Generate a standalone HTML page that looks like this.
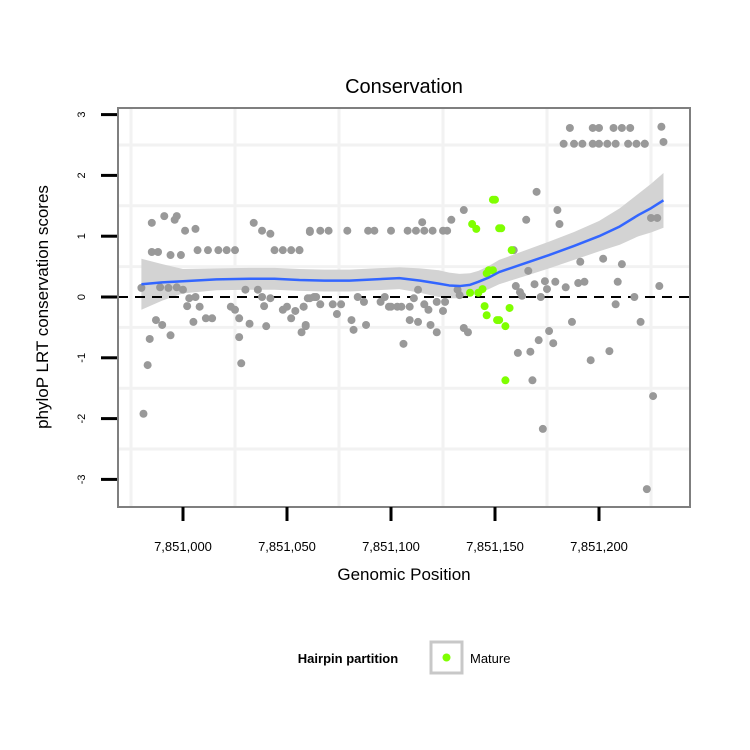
<!DOCTYPE html>
<html><head><meta charset="utf-8"><style>
body{margin:0;background:#fff;}
svg{display:block;font-family:"Liberation Sans",sans-serif;}
</style></head><body>
<svg id="chart" width="750" height="750">
<text x="404" y="93" font-size="20" text-anchor="middle">Conservation</text>
<g id="grid"></g>
<g id="ribbon"></g>
<line x1="118" x2="690" y1="297" y2="297" stroke="#000" stroke-width="2" stroke-dasharray="10,7"/>
<g id="points"></g>
<g id="fit"></g>
<rect x="118" y="108" width="572" height="399" fill="none" stroke="#7f7f7f" stroke-width="2"/>
<g id="axes"></g>
<text x="404" y="580" font-size="17" text-anchor="middle">Genomic Position</text>
<text transform="translate(48,307) rotate(-90)" font-size="17" text-anchor="middle">phyloP LRT conservation scores</text>
<g>
<text x="348" y="663" font-size="13" font-weight="bold" text-anchor="middle">Hairpin partition</text>
<rect x="431" y="642" width="31" height="31" fill="#fff" stroke="#c8c8c8" stroke-width="3"/>
<circle cx="446.5" cy="657.5" r="4" fill="#7fff00"/>
<text x="470" y="663" font-size="13">Mature</text>
</g>
</svg>
<script>
const xTicks = [0, 50, 100, 150, 200];
const xTickLabels = ["7,851,000","7,851,050","7,851,100","7,851,150","7,851,200"];
const yTicks = [-3,-2,-1,0,1,2,3];
const grayX = [-15,-9,-4,-3,1,6,-15,-12,-6,-1,7,12,17,21,25,34,38,42,44,48,52,56,61,
 -20,-11,-7,-3,0,3,6,2,8,-13,-10,5,11,14,-6,-16,-17,-19,23,25,27,30,36,38,42,32,39,40,27,28,48,50,54,52,58,59,57,61,64,
 61,66,70,79,89,92,100,108,112,116,120,125,127,115,129,135,56,
 60,63,58,66,72,76,74,59,81,82,88,84,87,95,97,99,103,106,109,100,113,111,109,113,119,122,116,118,122,126,125,105,132,133,135,137,
 159,170,165,180,181,166,160,169,174,179,175,184,162,163,172,191,202,211,190,193,209,217,208,229,187,220,176,171,178,161,167,196,205,168,226,173,223,
 186,197,200,207,211,215,230,183,188,192,197,200,204,208,214,218,222,222,231,225,228];
const grayY = [1.22,1.33,1.27,1.33,1.09,1.12,0.74,0.74,0.69,0.69,0.77,0.77,0.77,0.77,0.77,1.22,1.09,1.04,0.77,0.77,0.77,0.77,1.07,
 0.15,0.16,0.15,0.16,0.12,-0.02,0,-0.15,-0.16,-0.38,-0.46,-0.41,-0.35,-0.35,-0.63,-0.69,-1.12,-1.92,-0.16,-0.21,-0.35,0.12,0.12,0,-0.02,-0.44,-0.15,-0.48,-0.66,-1.09,-0.21,-0.16,-0.23,-0.35,-0.16,-0.46,-0.58,-0.02,0,
 1.09,1.09,1.09,1.09,1.09,1.09,1.09,1.09,1.09,1.09,1.09,1.09,1.09,1.23,1.27,1.43,0.77,
 -0.02,0,-0.16,-0.12,-0.12,-0.12,-0.28,-0.48,-0.38,-0.54,-0.46,0,-0.08,-0.08,0,-0.16,-0.16,-0.77,-0.16,-0.16,0.12,-0.02,-0.38,-0.41,-0.46,-0.58,-0.12,-0.21,-0.08,-0.08,-0.23,-0.16,0.12,0.03,-0.51,-0.58,
 0.77,1.73,1.27,1.43,1.20,0.43,0.18,0.21,0.26,0.25,0.13,0.16,0.08,0.02,0,0.58,0.63,0.54,0.23,0.25,0.25,0,-0.12,0.18,-0.41,-0.41,-0.56,-0.71,-0.76,-0.92,-0.90,-1.04,-0.89,-1.37,-1.63,-2.17,-3.16,
 2.78,2.78,2.78,2.78,2.78,2.78,2.80,2.52,2.52,2.52,2.52,2.52,2.52,2.52,2.52,2.52,2.52,2.52,2.55,1.30,1.30];
const greenX = [149,150,139,141,152,147,146,138,144,142,145,146,151,153,158,149,152,155,157,155];
const greenY = [1.60,1.60,1.20,1.12,1.13,0.44,0.39,0.07,0.13,0.07,-0.15,-0.30,-0.38,1.13,0.77,0.44,-0.38,-0.48,-0.18,-1.37];
const fitX = [-20,-10,0,16,32,44,56,68,80,92,104,114,123,128,133,138,142,147,152,164,176,188,200,210,219,225,231];
const fitY = [0.21,0.24,0.26,0.29,0.30,0.30,0.28,0.27,0.27,0.29,0.31,0.27,0.22,0.19,0.18,0.20,0.25,0.32,0.41,0.55,0.69,0.84,1.00,1.16,1.35,1.46,1.59];
const fitSE = [0.42,0.30,0.20,0.18,0.18,0.18,0.18,0.18,0.18,0.18,0.18,0.20,0.22,0.21,0.20,0.19,0.18,0.19,0.20,0.21,0.22,0.23,0.25,0.30,0.35,0.40,0.45];

const NS="http://www.w3.org/2000/svg";
const sx = v => 183 + v*2.08;
const sy = v => 297 - v*60.8;
function mk(tag, attrs, parent){const e=document.createElementNS(NS,tag);for(const k in attrs)e.setAttribute(k,attrs[k]);parent.appendChild(e);return e;}
const grid=document.getElementById('grid');
for(let v=-25; v<=235; v+=50){
 const l=mk('line',{x1:sx(v),x2:sx(v),y1:108,y2:507,stroke:'#f2f2f2','stroke-width':3},grid);
 
 }
for(let v=-3.5; v<=3.5; v+=1){ if(sy(v)<108||sy(v)>507) continue;
 const l=mk('line',{x1:118,x2:690,y1:sy(v),y2:sy(v),stroke:'#f2f2f2','stroke-width':3},grid);
 
 }
let up=fitX.map((x,i)=>sx(x)+','+sy(fitY[i]+fitSE[i]));
let dn=fitX.map((x,i)=>sx(x)+','+sy(fitY[i]-fitSE[i])).reverse();
const rib=mk('polygon',{points:up.concat(dn).join(' '),fill:'#d3d3d3'},document.getElementById('ribbon'));


const pts=document.getElementById('points');
grayX.forEach((x,i)=>{const c=mk('circle',{cx:sx(x),cy:sy(grayY[i]),r:4,fill:'#999'},pts);
 
 });
greenX.forEach((x,i)=>{const c=mk('circle',{cx:sx(x),cy:sy(greenY[i]),r:4,fill:'#7fff00'},pts);
 
 });
const fl=mk('polyline',{points:fitX.map((x,i)=>sx(x)+','+sy(fitY[i])).join(' '),fill:'none',stroke:'#3366ff','stroke-width':2.5,'stroke-linejoin':'round'},document.getElementById('fit'));


const ax=document.getElementById('axes');
xTicks.forEach((v,i)=>{
 const t=mk('line',{x1:sx(v),x2:sx(v),y1:507,y2:521,stroke:'#000','stroke-width':3},ax);
 
 
 const tx=mk('text',{x:sx(v),y:551,'font-size':13,'text-anchor':'middle'},ax);
 tx.textContent=xTickLabels[i];
 
 });
yTicks.forEach(v=>{
 const t=mk('line',{x1:101,x2:117,y1:sy(v),y2:sy(v),stroke:'#000','stroke-width':3},ax);
 
 
 const tx=mk('text',{transform:`translate(85,${sy(v)}) rotate(-90)`,'font-size':11,'text-anchor':'middle'},ax);
 tx.textContent=String(v);
 
 });
</script>
</body></html>
